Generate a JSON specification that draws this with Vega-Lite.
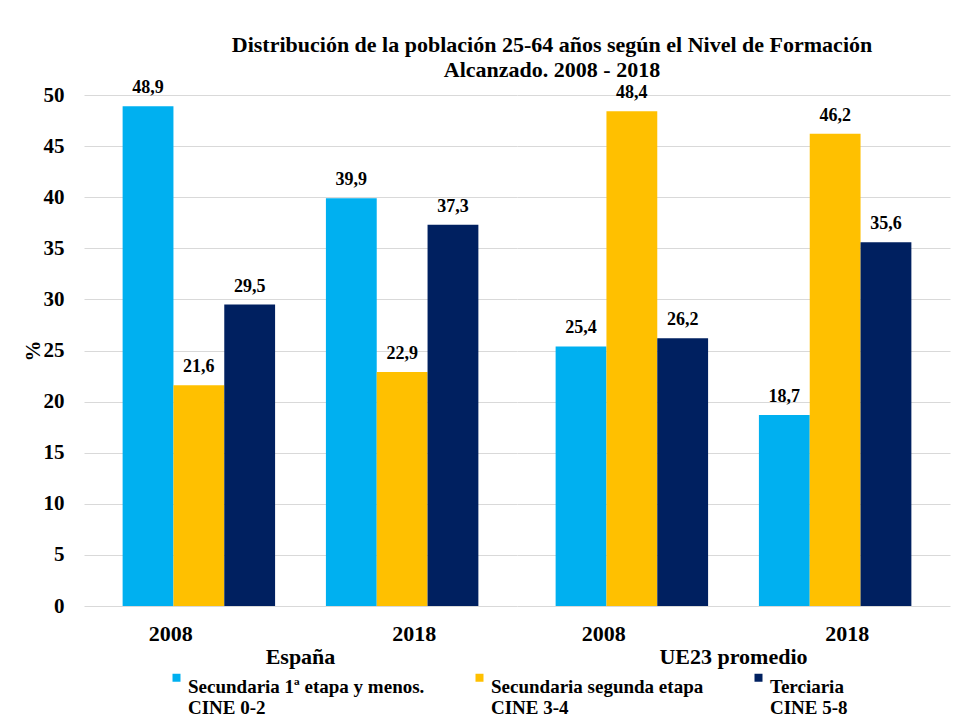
{
  "$schema": "https://vega.github.io/schema/vega-lite/v6.json",
  "config": {
    "locale": {"number": {"decimal": ",", "thousands": ".", "grouping": [3], "currency": ["", " €"]}},
    "font": "Liberation Serif",
    "view": {"stroke": null},
    "background": "white"
  },
  "padding": {"left": 22, "top": 34, "right": 5, "bottom": 2},
  "title": {
    "text": ["Distribución  de la población 25-64 años según el Nivel de Formación", "Alcanzado.  2008 - 2018"],
    "fontSize": 22, "fontWeight": "bold", "font": "Liberation Serif", "color": "black",
    "anchor": "middle", "offset": -3, "lineHeight": 25, "dx": 66
  },
  "data": {"values": [
    {"region": "España", "anio": "2008", "nivel": "Secundaria 1ª etapa y menos. CINE 0-2", "valor": 48.9},
    {"region": "España", "anio": "2008", "nivel": "Secundaria segunda etapa CINE 3-4", "valor": 21.6},
    {"region": "España", "anio": "2008", "nivel": "Terciaria CINE 5-8", "valor": 29.5},
    {"region": "España", "anio": "2018", "nivel": "Secundaria 1ª etapa y menos. CINE 0-2", "valor": 39.9},
    {"region": "España", "anio": "2018", "nivel": "Secundaria segunda etapa CINE 3-4", "valor": 22.9},
    {"region": "España", "anio": "2018", "nivel": "Terciaria CINE 5-8", "valor": 37.3},
    {"region": "UE23 promedio", "anio": "2008", "nivel": "Secundaria 1ª etapa y menos. CINE 0-2", "valor": 25.4},
    {"region": "UE23 promedio", "anio": "2008", "nivel": "Secundaria segunda etapa CINE 3-4", "valor": 48.4},
    {"region": "UE23 promedio", "anio": "2008", "nivel": "Terciaria CINE 5-8", "valor": 26.2},
    {"region": "UE23 promedio", "anio": "2018", "nivel": "Secundaria 1ª etapa y menos. CINE 0-2", "valor": 18.7},
    {"region": "UE23 promedio", "anio": "2018", "nivel": "Secundaria segunda etapa CINE 3-4", "valor": 46.2},
    {"region": "UE23 promedio", "anio": "2018", "nivel": "Terciaria CINE 5-8", "valor": 35.6}
  ]},
  "facet": {
    "column": {
      "field": "region", "type": "nominal", "sort": ["España", "UE23 promedio"],
      "header": {"labelOrient": "bottom", "title": null, "labelFontSize": 22, "labelFontWeight": "bold", "labelFont": "Liberation Serif", "labelColor": "black", "labelPadding": 3}
    }
  },
  "spacing": 0,
  "spec": {
    "width": 433,
    "height": 511,
    "encoding": {
      "x": {
        "field": "anio", "type": "nominal", "title": null,
        "scale": {"paddingInner": 0.25, "paddingOuter": 0.19},
        "axis": {
          "labelAngle": 0, "domain": false, "ticks": false, "labelFontSize": 22, "labelFontWeight": "bold",
          "labelPadding": 17, "labelColor": "black",
          "labelOffset": {"condition": {"test": "datum.value == '2008'", "value": -28}, "value": 12}
        }
      },
      "xOffset": {
        "field": "nivel", "type": "nominal",
        "sort": ["Secundaria 1ª etapa y menos. CINE 0-2", "Secundaria segunda etapa CINE 3-4", "Terciaria CINE 5-8"],
        "scale": {"paddingInner": 0, "paddingOuter": 0}
      },
      "y": {
        "field": "valor", "type": "quantitative",
        "scale": {"domain": [0, 50]},
        "axis": {
          "values": [0, 5, 10, 15, 20, 25, 30, 35, 40, 45, 50],
          "title": "%", "titleFontSize": 21, "titleFontWeight": "bold", "titleColor": "black", "titlePadding": 0,
          "domain": false, "ticks": false, "labelPadding": 20, "labelFontSize": 21, "labelFontWeight": "bold",
          "labelColor": "black", "gridColor": "#d9d9d9", "gridWidth": 1
        }
      }
    },
    "layer": [
      {
        "mark": {"type": "bar"},
        "encoding": {
          "color": {
            "field": "nivel", "type": "nominal",
            "scale": {
              "domain": ["Secundaria 1ª etapa y menos. CINE 0-2", "Secundaria segunda etapa CINE 3-4", "Terciaria CINE 5-8"],
              "range": ["#00B0F0", "#FFC000", "#002060"]
            },
            "legend": {
              "orient": "none", "legendX": 83, "legendY": 573, "direction": "horizontal",
              "title": null, "columns": 3, "columnPadding": 45,
              "symbolType": "square", "symbolSize": 64, "symbolStrokeWidth": 0, "labelOffset": 2,
              "labelFontSize": 19, "labelFontWeight": "bold", "labelColor": "black", "labelFont": "Liberation Serif",
              "labelLimit": 400, "labelBaseline": "top", "symbolOffset": 0,
              "labelExpr": "[substring(datum.label, 0, indexof(datum.label, ' CINE')), substring(datum.label, indexof(datum.label, ' CINE') + 1)]"
            }
          }
        }
      },
      {
        "mark": {"type": "text", "dy": -18, "fontWeight": "bold", "fontSize": 18, "color": "black", "font": "Liberation Serif"},
        "encoding": {
          "text": {"field": "valor", "type": "quantitative", "format": ".1f"}
        }
      }
    ]
  }
}
